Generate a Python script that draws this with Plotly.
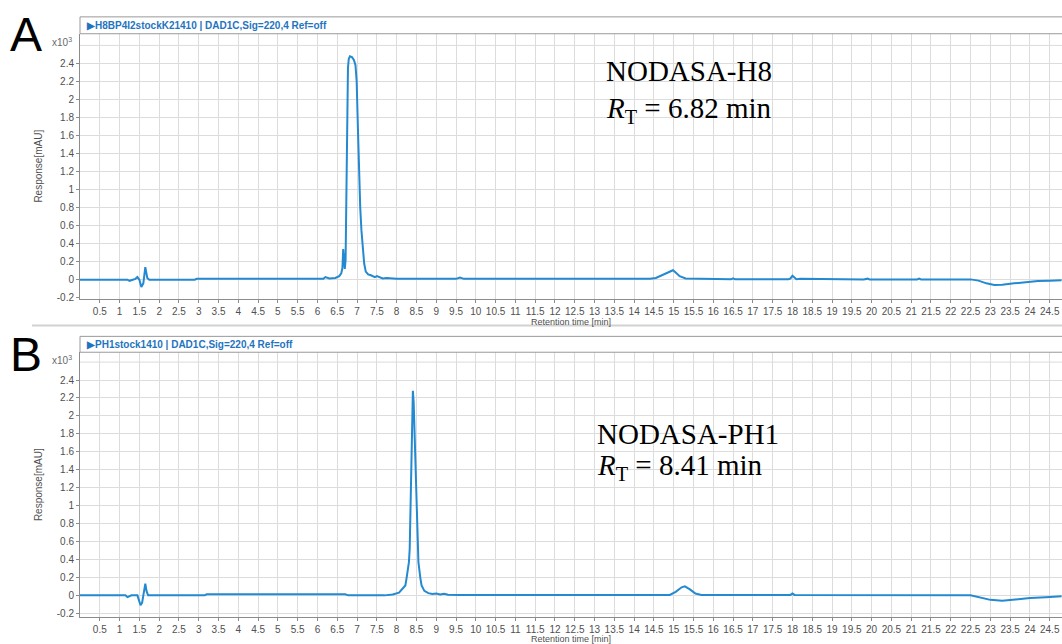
import plotly.graph_objects as go

# ---- chromatogram data (response in 10^3 mAU vs retention time in min) ----
a_time = [0, 1.2, 1.25, 1.3, 1.4, 1.45, 1.5, 1.55, 1.6, 1.65, 1.7, 1.75, 2.9, 2.95,
          6.15, 6.2, 6.25, 6.3, 6.45, 6.55, 6.6, 6.63, 6.65, 6.67, 6.69, 6.71, 6.73,
          6.75, 6.77, 6.79, 6.82, 6.87, 6.92, 6.96, 6.99, 7.02, 7.05, 7.08, 7.11,
          7.14, 7.18, 7.22, 7.28, 7.35, 7.45, 7.5, 7.55, 7.65, 7.75, 8.0, 9.5, 9.6,
          9.7, 14.4, 14.55, 14.7, 14.85, 14.98, 15.05, 15.15, 15.3, 15.7, 15.75,
          16.45, 16.5, 16.55, 17.9, 17.95, 18.0, 18.05, 18.1, 18.2, 18.5, 18.6,
          19.8, 19.9, 19.95, 21.15, 21.2, 21.25, 22.5, 22.7, 22.9, 23.1, 23.3, 23.6,
          23.9, 24.2, 24.5, 24.8]
a_resp = [0, 0, -0.012, -0.005, 0.01, 0.03, 0.0, -0.08, -0.04, 0.14, 0.02, 0.0, 0.0, 0.01,
          0.01, 0.03, 0.02, 0.015, 0.02, 0.04, 0.07, 0.13, 0.34, 0.18, 0.12, 0.22, 0.9,
          1.9, 2.35, 2.45, 2.48, 2.47, 2.44, 2.38, 2.2, 1.7, 1.15, 0.8, 0.55,
          0.36, 0.18, 0.09, 0.06, 0.05, 0.03, 0.04, 0.03, 0.015, 0.02, 0.01, 0.01, 0.025,
          0.01, 0.01, 0.02, 0.05, 0.085, 0.105, 0.08, 0.04, 0.015, 0.012, 0.005,
          0.005, 0.015, 0.005, 0.005, 0.015, 0.045, 0.02, 0.005, 0.012, 0.01, 0.004,
          0.004, 0.012, 0.004, 0.004, 0.012, 0.004, 0.004, -0.01, -0.04, -0.058, -0.055, -0.04,
          -0.025, -0.015, -0.01, -0.005]

b_time = [0, 1.15, 1.2, 1.25, 1.3, 1.45, 1.5, 1.53, 1.57, 1.62, 1.65, 1.68, 1.72, 3.15,
          3.2, 6.7, 6.78, 7.7, 7.9, 8.06, 8.15, 8.22, 8.25, 8.31, 8.33, 8.37, 8.39,
          8.41, 8.43, 8.45, 8.48, 8.51, 8.53, 8.55, 8.6, 8.63, 8.7, 8.8, 8.9, 9.0,
          9.1, 9.2, 9.3, 9.6, 14.9, 15.05, 15.2, 15.28, 15.4, 15.55, 15.7, 17.95,
          18.0, 18.05, 22.5, 22.7, 23.0, 23.3, 23.6, 24.0, 24.4, 24.8]
b_resp = [0, 0, -0.02, -0.01, 0.0, 0.0, -0.09, -0.11, -0.08, 0.05, 0.13, 0.05, 0.0, 0.0,
          0.012, 0.012, 0.0, 0.0, 0.01, 0.03, 0.08, 0.11, 0.19, 0.37, 0.52, 1.44, 2.12,
          2.28, 2.15, 1.8, 1.44, 0.8, 0.52, 0.37, 0.19, 0.11, 0.05, 0.025, 0.015, 0.02,
          0.01, 0.018, 0.008, 0.005, 0.005, 0.04, 0.09, 0.1, 0.07, 0.02, 0.005, 0.005,
          0.02, 0.005, 0.0, -0.02, -0.05, -0.06, -0.045, -0.03, -0.02, -0.01]

x_ticks = [0.5 * k for k in range(1, 50)]
y_ticks = [-0.2, 0, 0.2, 0.4, 0.6, 0.8, 1, 1.2, 1.4, 1.6, 1.8, 2, 2.2, 2.4]
y_grid_top = 2.6  # unlabelled top grid line

panel_letters = ["A", "B"]
headers = ["\u25B6H8BP4I2stockK21410 | DAD1C,Sig=220,4 Ref=off",
           "\u25B6PH1stock1410 | DAD1C,Sig=220,4 Ref=off"]
compounds = ["NODASA-H8", "NODASA-PH1"]
retention = ["6.82", "8.41"]

W, H = 1062, 644
LINE = "#2389d0"
GRID = "#dcdcdc"
AXIS = "#8c8c8c"
TICKC = "#505050"
SANS = "Liberation Sans, Arial, sans-serif"
SERIF = "Liberation Serif, Times New Roman, serif"


def fx(px):
    return px / W


def fy(py):
    return 1 - py / H


fig = go.Figure()
fig.add_trace(go.Scatter(x=a_time, y=a_resp, mode="lines", xaxis="x", yaxis="y",
                         line=dict(color=LINE, width=2), showlegend=False))
fig.add_trace(go.Scatter(x=b_time, y=b_resp, mode="lines", xaxis="x2", yaxis="y2",
                         line=dict(color=LINE, width=2), showlegend=False))

# panel geometry in pixels: plot top, plot bottom, header top
panels = [dict(top=34, bottom=301, head=17, yr=[-0.21, 2.73]),
          dict(top=355, bottom=622, head=339, yr=[-0.243, 2.71])]

x_left = 80
ytext = ["-0.2" if v == -0.2 else f"{v:g}" for v in y_ticks]
xtext = [f"{v:g}" for v in x_ticks]

layout = dict(width=W, height=H, margin=dict(l=0, r=0, t=0, b=0),
              paper_bgcolor="white", plot_bgcolor="white",
              font=dict(family=SANS, color=TICKC, size=10))
shapes = []
annotations = []
for i, p in enumerate(panels):
    sfx = "" if i == 0 else str(i + 1)
    xa, ya = "x" + sfx, "y" + sfx
    layout["xaxis" + sfx] = dict(
        domain=[fx(x_left), 1], range=[0, 24.81], anchor=ya,
        tickvals=x_ticks, ticktext=xtext, showgrid=True, gridcolor=GRID, gridwidth=1,
        showline=True, linecolor=AXIS, linewidth=1, ticks="outside", ticklen=3,
        tickcolor=AXIS, tickfont=dict(size=10, color=TICKC), zeroline=False,
        title=dict(text="Retention time [min]", font=dict(size=9, color=TICKC), standoff=0))
    layout["yaxis" + sfx] = dict(
        domain=[fy(p["bottom"]), fy(p["top"])], range=p["yr"], anchor=xa,
        tickvals=y_ticks, ticktext=ytext, showgrid=True, gridcolor=GRID, gridwidth=1,
        showline=True, linecolor=AXIS, linewidth=1, ticks="outside", ticklen=3,
        tickcolor=AXIS, tickfont=dict(size=10, color=TICKC), zeroline=False,
        title=dict(text="Response[mAU]", font=dict(size=10, color=TICKC), standoff=12))

    # top grid line without a label
    shapes.append(dict(type="line", xref=xa + " domain", yref=ya, x0=0, x1=1,
                       y0=y_grid_top, y1=y_grid_top, line=dict(color=GRID, width=1),
                       layer="below"))
    # header strip above each plot
    shapes.append(dict(type="rect", xref="paper", yref="paper",
                       x0=fx(x_left), x1=1.002, y0=fy(p["top"]), y1=fy(p["head"]),
                       line=dict(color="#9a9a9a", width=1), fillcolor="white"))
    annotations.append(dict(xref="paper", yref="paper", x=fx(x_left + 4),
                            y=fy((p["top"] + p["head"]) / 2), xanchor="left",
                            yanchor="middle", showarrow=False, text="<b>" + headers[i] + "</b>",
                            font=dict(family=SANS, size=10, color="#1f74c0")))
    # exponent marker
    annotations.append(dict(xref="paper", yref="paper", x=fx(74), y=fy(p["top"] + 8),
                            xanchor="right", yanchor="middle", showarrow=False,
                            text="x10<sup>3</sup>", font=dict(family=SANS, size=10, color="#6a6a6a")))
    # panel letter
    annotations.append(dict(xref="paper", yref="paper", x=fx(8), y=fy(p["head"] + 18),
                            xanchor="left", yanchor="middle", showarrow=False,
                            text=panel_letters[i],
                            font=dict(family=SANS, size=48, color="black")))

# compound labels
lab_pos = [(604, 72, 111), (595, 437, 471)]
for i, (lx, l1, l2) in enumerate(lab_pos):
    annotations.append(dict(xref="paper", yref="paper", x=fx(lx), y=fy(l1),
                            xanchor="left", yanchor="middle", showarrow=False,
                            text=compounds[i], font=dict(family=SERIF, size=29, color="black")))
    annotations.append(dict(xref="paper", yref="paper", x=fx(lx), y=fy(l2),
                            xanchor="left", yanchor="middle", showarrow=False,
                            text="<i>R</i><sub>T</sub> = " + retention[i] + " min",
                            font=dict(family=SERIF, size=29, color="black")))

# separator between the two panels
shapes.append(dict(type="line", xref="paper", yref="paper", x0=fx(32), x1=1,
                   y0=fy(328), y1=fy(328), line=dict(color="#d2d2d2", width=2)))

layout["shapes"] = shapes
layout["annotations"] = annotations
fig.update_layout(**layout)
fig.write_html("out.html")
